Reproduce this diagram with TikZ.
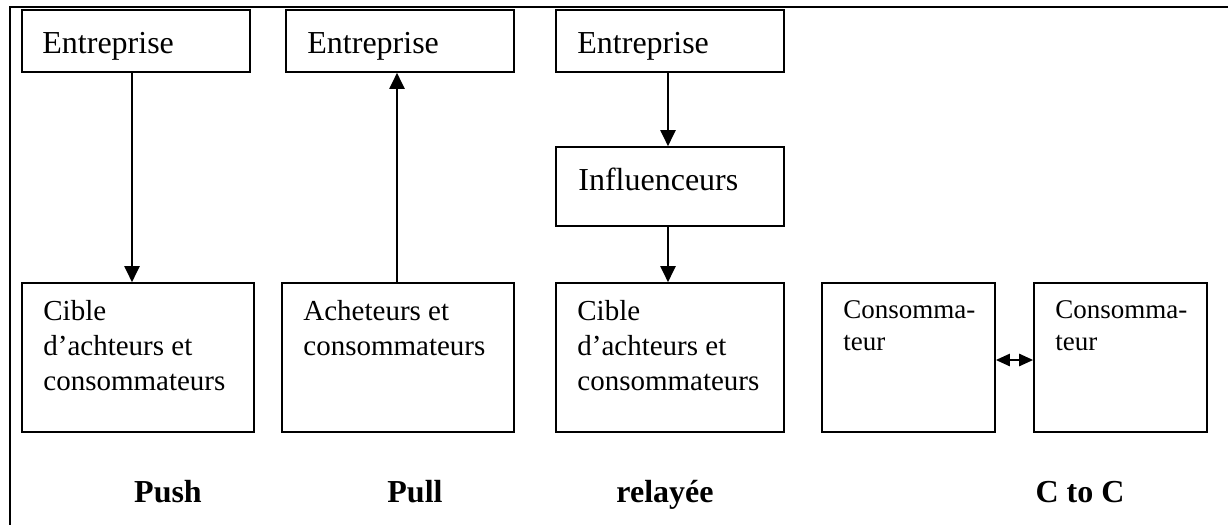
\documentclass[tikz,border=0pt]{standalone}
\usepackage{fontspec}
\setmainfont{Liberation Serif}
\usetikzlibrary{arrows.meta,fit}
\begin{document}
\begin{tikzpicture}[x=0.5pt,y=-0.5pt,
  box/.style={draw,line width=0.8pt,inner sep=0pt},
  txt/.style={font=\fontsize{16}{18}\selectfont,inner sep=0pt,align=left,anchor=north west},
  mtxt/.style={font=\fontsize{14.5}{17.5}\selectfont,inner sep=0pt,align=left,anchor=north west},
  stxt/.style={font=\fontsize{13.5}{16}\selectfont,inner sep=0pt,align=left,anchor=north west},
  lbl/.style={font=\fontsize{16}{18}\selectfont\bfseries,inner sep=0pt,anchor=base},
  arr/.style={line width=1pt,-{Triangle[length=8pt,width=7.5pt]}},
  darr/.style={line width=1.2pt,{Triangle[length=7pt,width=6pt]}-{Triangle[length=7pt,width=6pt]}},
  frame/.style={line width=1.2pt}]
\useasboundingbox (0,0) rectangle (1228,525);
% outer frame
\coordinate (fl) at (10,525);
\coordinate (fc) at (10,7);
\coordinate (fr) at (1228,7);
\draw[frame] (fl) -- (fc) -- (fr);
% top boxes
\node[box, fit={(22,10) (250,72)}] (e1) {};
\node[box, fit={(286,10) (514,72)}] (e2) {};
\node[box, fit={(556,10) (784,72)}] (e3) {};
\node[box, fit={(556,147) (784,226)}] (inf) {};
% bottom boxes
\node[box, fit={(22,283) (254,432)}] (c1) {};
\node[box, fit={(282,283) (514,432)}] (c2) {};
\node[box, fit={(556,283) (784,432)}] (c3) {};
\node[box, fit={(822,283) (995,432)}] (c4) {};
\node[box, fit={(1034,283) (1207,432)}] (c5) {};
% texts
\node[txt] (te1) at (42,32) {Entreprise};
\node[txt] (te2) at (307,32) {Entreprise};
\node[txt] (te3) at (577,32) {Entreprise};
\node[txt] (tinf) at (578,168) {Influenceurs};
\node[mtxt] (tc1) at (43,300) {Cible\\d’achteurs et\\consommateurs};
\node[mtxt] (tc2) at (303,300) {Acheteurs et\\consommateurs};
\node[mtxt] (tc3) at (577,300) {Cible\\d’achteurs et\\consommateurs};
\node[stxt] (tc4) at (843,300) {Consomma-\\teur};
\node[stxt] (tc5) at (1055,300) {Consomma-\\teur};
% labels
\node[lbl] (l1) at (168,502) {Push};
\node[lbl] (l2) at (415,502) {Pull};
\node[lbl] (l3) at (665,502) {relayée};
\node[lbl] (l4) at (1080,502) {C to C};
% arrows
\draw[arr] (e1.south -| 132,0) -- (c1.north -| 132,0);
\draw[arr] (c2.north -| 397,0) -- (e2.south -| 397,0);
\draw[arr] (e3.south -| 668,0) -- (inf.north -| 668,0);
\draw[arr] (inf.south -| 668,0) -- (c3.north -| 668,0);
\draw[darr] (c4.east |- 0,360) -- (c5.west |- 0,360);
\end{tikzpicture}
\end{document}
